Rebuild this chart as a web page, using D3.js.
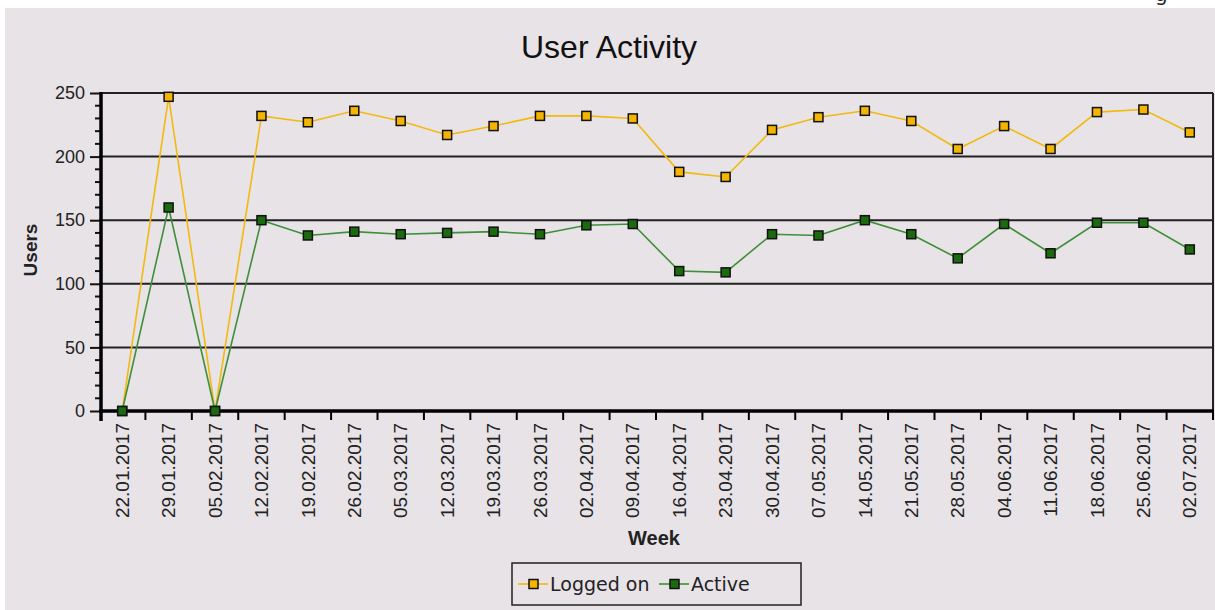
<!DOCTYPE html>
<html>
<head>
<meta charset="utf-8">
<script src="https://cdn.jsdelivr.net/npm/d3@7"></script>
<style>
  body { margin: 0; background: #fff; }
  svg { display: block; }
</style>
</head>
<body>
<svg id="chart"></svg>
<script>
// chart data
const weeks = ["22.01.2017", "29.01.2017", "05.02.2017", "12.02.2017", "19.02.2017", "26.02.2017",
  "05.03.2017", "12.03.2017", "19.03.2017", "26.03.2017", "02.04.2017", "09.04.2017",
  "16.04.2017", "23.04.2017", "30.04.2017", "07.05.2017", "14.05.2017", "21.05.2017",
  "28.05.2017", "04.06.2017", "11.06.2017", "18.06.2017", "25.06.2017", "02.07.2017"];
const loggedOn = [0, 247, 0, 232, 227, 236, 228, 217, 224, 232, 232, 230,
  188, 184, 221, 231, 236, 228, 206, 224, 206, 235, 237, 219];
const active = [0, 160, 0, 150, 138, 141, 139, 140, 141, 139, 146, 147,
  110, 109, 139, 138, 150, 139, 120, 147, 124, 148, 148, 127];
const yTicks = [0, 50, 100, 150, 200, 250];

const width = 1215, height = 610;
const plotLeft = 99, plotRight = 1213, plotTop = 93, plotBottom = 411;

const series = [
  { name: "Logged on", values: loggedOn, line: "#f2b90f", fill: "#f5b400" },
  { name: "Active", values: active, line: "#3f8f3a", fill: "#1c6a10" }
];

const svg = d3.select("#chart")
  .attr("width", width)
  .attr("height", height)
  .style("font-family", "'Liberation Sans', Arial, sans-serif");

// background panel
svg.append("rect")
  .attr("x", 5).attr("y", 8)
  .attr("width", width - 5).attr("height", height - 8)
  .attr("fill", "#e7e3e7");

svg.append("text")
  .attr("x", 1155).attr("y", 1)
  .attr("font-size", 20)
  .attr("font-family", "'DejaVu Sans', sans-serif")
  .attr("fill", "#222")
  .text("g");

const x = d3.scaleBand(weeks, [plotLeft, plotRight]);
const y = d3.scaleLinear([0, 250], [plotBottom, plotTop]);
const cx = d => x(d) + x.bandwidth() / 2;

// title
svg.append("text")
  .attr("x", 609).attr("y", 58)
  .attr("text-anchor", "middle")
  .attr("font-size", 32)
  .attr("fill", "#111")
  .text("User Activity");

// grid lines
svg.append("g")
  .selectAll("line")
  .data(yTicks.filter(d => d > 0))
  .join("line")
  .attr("x1", plotLeft).attr("x2", plotRight)
  .attr("y1", d => y(d)).attr("y2", d => y(d))
  .attr("stroke", "#222")
  .attr("stroke-width", 2);

// right frame
svg.append("line")
  .attr("x1", plotRight).attr("x2", plotRight)
  .attr("y1", plotTop).attr("y2", plotBottom)
  .attr("stroke", "#222")
  .attr("stroke-width", 2);

// y axis
const yAxis = svg.append("g")
  .attr("transform", `translate(${plotLeft + 2},0)`)
  .call(d3.axisLeft(y).tickValues(yTicks).tickSize(11).tickPadding(5))
  .call(g => g.select(".domain").remove())
  .call(g => g.selectAll(".tick line").attr("stroke", "#111").attr("stroke-width", 2))
  .call(g => g.selectAll(".tick text")
    .attr("font-size", 18)
    .attr("fill", "#222")
    .attr("font-family", "'Liberation Sans', Arial, sans-serif"));

// minor y ticks
yAxis.append("g")
  .selectAll("line")
  .data(d3.range(0, 251, 10).filter(d => d % 50 !== 0))
  .join("line")
  .attr("x1", -6).attr("x2", 0)
  .attr("y1", d => y(d)).attr("y2", d => y(d))
  .attr("stroke", "#111")
  .attr("stroke-width", 2);

svg.append("line")
  .attr("x1", plotLeft + 2).attr("x2", plotLeft + 2)
  .attr("y1", plotTop - 1).attr("y2", plotBottom + 10)
  .attr("stroke", "#000")
  .attr("stroke-width", 3.5);

// x axis
const xAxis = svg.append("g")
  .attr("transform", `translate(0,${plotBottom})`);

xAxis.append("line")
  .attr("x1", plotLeft).attr("x2", plotRight + 1)
  .attr("stroke", "#000")
  .attr("stroke-width", 3.5);

xAxis.selectAll(".xtick")
  .data(weeks.slice(1))
  .join("line")
  .attr("class", "xtick")
  .attr("x1", d => x(d)).attr("x2", d => x(d))
  .attr("y1", 0).attr("y2", 9)
  .attr("stroke", "#000")
  .attr("stroke-width", 2);

xAxis.append("line")
  .attr("x1", plotRight).attr("x2", plotRight)
  .attr("y1", 0).attr("y2", 9)
  .attr("stroke", "#000")
  .attr("stroke-width", 2);

xAxis.selectAll(".xlabel")
  .data(weeks)
  .join("text")
  .attr("class", "xlabel")
  .attr("transform", d => `translate(${cx(d)},${12}) rotate(-90)`)
  .attr("text-anchor", "end")
  .attr("dy", "0.35em")
  .attr("font-size", 19)
  .attr("fill", "#222")
  .text(d => d);

// axis titles
svg.append("text")
  .attr("x", 654).attr("y", 545)
  .attr("text-anchor", "middle")
  .attr("font-size", 20)
  .attr("font-weight", "bold")
  .attr("fill", "#222")
  .text("Week");

svg.append("text")
  .attr("transform", `translate(37,250) rotate(-90)`)
  .attr("text-anchor", "middle")
  .attr("font-size", 19)
  .attr("font-weight", "bold")
  .attr("fill", "#222")
  .text("Users");

// series lines and markers
const line = d3.line()
  .x((d, i) => cx(weeks[i]))
  .y(d => y(d));

series.forEach(s => {
  svg.append("path")
    .datum(s.values)
    .attr("fill", "none")
    .attr("stroke", s.line)
    .attr("stroke-width", 1.6)
    .attr("d", line);
});

series.forEach(s => {
  svg.append("g")
    .selectAll("rect")
    .data(s.values)
    .join("rect")
    .attr("x", (d, i) => cx(weeks[i]) - 4.5)
    .attr("y", d => y(d) - 4.5)
    .attr("width", 9).attr("height", 9)
    .attr("fill", s.fill)
    .attr("stroke", "#111")
    .attr("stroke-width", 1.5);
});

// legend
const legend = svg.append("g");
legend.append("rect")
  .attr("x", 512).attr("y", 563)
  .attr("width", 289).attr("height", 42)
  .attr("fill", "none")
  .attr("stroke", "#222")
  .attr("stroke-width", 1.5);

const legendX = [518, 659];
series.forEach((s, i) => {
  const g = legend.append("g").attr("transform", `translate(${legendX[i]},584)`);
  g.append("line")
    .attr("x1", 0).attr("x2", 30)
    .attr("stroke", s.line)
    .attr("stroke-width", 1.6);
  g.append("rect")
    .attr("x", 11).attr("y", -4.5)
    .attr("width", 9).attr("height", 9)
    .attr("fill", s.fill)
    .attr("stroke", "#111")
    .attr("stroke-width", 1.5);
  g.append("text")
    .attr("x", 32).attr("y", 7)
    .attr("font-size", 19)
    .attr("font-family", "'DejaVu Sans', sans-serif")
    .attr("fill", "#222")
    .text(s.name);
});
</script>
</body>
</html>
